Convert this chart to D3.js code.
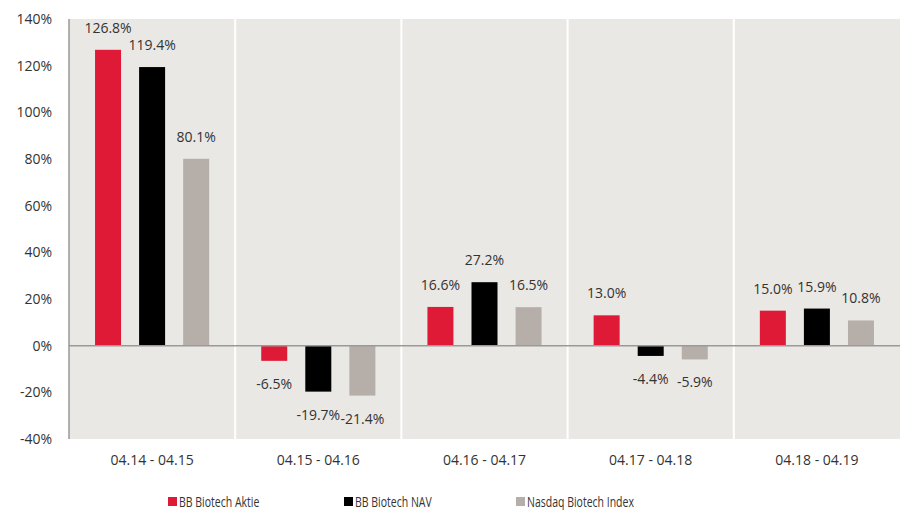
<!DOCTYPE html>
<html>
<head>
<meta charset="utf-8">
<script src="https://cdn.jsdelivr.net/npm/d3@7"></script>
<style>
  body { margin: 0; background: #fff; }
  svg text { font-family: "Open Sans", sans-serif; fill: #333; }
</style>
</head>
<body>
<div id="chart"></div>
<script>
// data
var periods = ["04.14 - 04.15", "04.15 - 04.16", "04.16 - 04.17", "04.17 - 04.18", "04.18 - 04.19"];
var seriesNames = ["BB Biotech Aktie", "BB Biotech NAV", "Nasdaq Biotech Index"];
var aktie = [126.8, -6.5, 16.6, 13.0, 15.0];
var nav = [119.4, -19.7, 27.2, -4.4, 15.9];
var nasdaq = [80.1, -21.4, 16.5, -5.9, 10.8];
var yTicks = [-40, -20, 0, 20, 40, 60, 80, 100, 120, 140];
var colors = ["#df1a37", "#000000", "#b6aea8"];

var seriesValues = [aktie, nav, nasdaq];
var rows = [];
periods.forEach(function (p, i) {
  seriesNames.forEach(function (s, j) {
    rows.push({period: p, series: s, value: seriesValues[j][i], color: colors[j]});
  });
});

// set the dimensions and margins of the graph
var margin = {top: 19, right: 2, bottom: 71, left: 69},
    width = 902 - margin.left - margin.right,
    height = 510 - margin.top - margin.bottom;

var svg = d3.select("#chart").append("svg")
    .attr("width", 902)
    .attr("height", 510);

var g = svg.append("g")
    .attr("transform", "translate(" + margin.left + "," + margin.top + ")");

var x0 = d3.scaleBand()
    .domain(periods)
    .range([0, width]);

var x1 = d3.scaleBand()
    .domain(seriesNames)
    .range([17, x0.bandwidth() - 17]);

var y = d3.scaleLinear()
    .domain([-40, 140])
    .range([height, 0]);

var barW = x1.bandwidth() * 0.59;

// plot background
g.append("rect")
  .attr("width", width)
  .attr("height", height)
  .attr("fill", "#eae8e4");

// white separators between groups
g.selectAll(".sep")
  .data(periods.slice(1))
  .enter().append("line")
  .attr("class", "sep")
  .attr("x1", d => x0(d))
  .attr("x2", d => x0(d))
  .attr("y1", 0)
  .attr("y2", height)
  .attr("stroke", "#fff")
  .attr("stroke-width", 2);

// y axis labels
var yAxis = g.append("g")
  .call(d3.axisLeft(y).tickValues(yTicks).tickSize(0).tickPadding(17)
    .tickFormat(d => d + "%"));
yAxis.select(".domain").remove();
yAxis.selectAll("text")
  .style("font-size", "14px")
  .style("fill", "#333");

// x axis labels
var xAxis = g.append("g")
  .attr("transform", "translate(0," + height + ")")
  .call(d3.axisBottom(x0).tickSize(0).tickPadding(16));
xAxis.select(".domain").remove();
xAxis.selectAll("text")
  .style("font-size", "14px")
  .style("fill", "#333");

// bars
g.selectAll(".bar")
  .data(rows)
  .enter().append("rect")
  .attr("class", "bar")
  .attr("x", d => x0(d.period) + x1(d.series) + (x1.bandwidth() - barW) / 2)
  .attr("width", barW)
  .attr("y", d => y(Math.max(0, d.value)))
  .attr("height", d => Math.abs(y(d.value) - y(0)))
  .attr("fill", d => d.color);

// value labels
g.selectAll(".label")
  .data(rows)
  .enter().append("text")
  .attr("class", "label")
  .attr("x", d => x0(d.period) + x1(d.series) + x1.bandwidth() / 2)
  .attr("y", d => d.value >= 0 ? y(d.value) - 17 : y(d.value) + 28)
  .attr("text-anchor", "middle")
  .style("font-size", "14px")
  .text(d => d.value.toFixed(1) + "%");

// zero line and left axis line
g.append("line")
  .attr("x1", 0).attr("x2", width)
  .attr("y1", y(0)).attr("y2", y(0))
  .attr("stroke", "#999").attr("stroke-width", 1.5);
g.append("line")
  .attr("x1", 0).attr("x2", 0)
  .attr("y1", 0).attr("y2", height)
  .attr("stroke", "#999").attr("stroke-width", 1.5);

// legend (condensed look, squeezed to ~75% width)
var legendX = [168, 344, 516];
var legend = svg.selectAll(".legend")
  .data(seriesNames)
  .enter().append("g")
  .attr("class", "legend")
  .attr("transform", (d, i) => "translate(" + legendX[i] + ",497)");
legend.append("rect")
  .attr("width", 9).attr("height", 9)
  .attr("fill", (d, i) => colors[i]);
legend.append("text")
  .attr("x", 11).attr("y", 9.5)
  .style("font-size", "14px")
  .text(d => d)
  .each(function () {
    var w = this.getComputedTextLength();
    d3.select(this)
      .attr("textLength", w * 0.75)
      .attr("lengthAdjust", "spacingAndGlyphs");
  });
</script>
</body>
</html>
